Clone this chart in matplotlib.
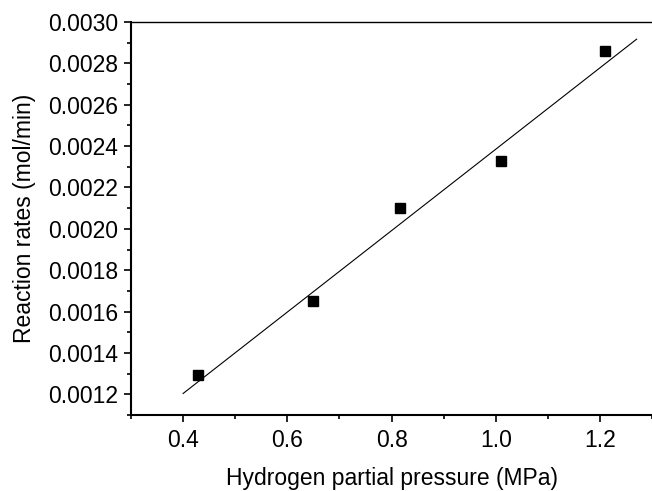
import matplotlib.pyplot as plt
from matplotlib.ticker import MultipleLocator, FormatStrFormatter

plt.rcParams['font.family'] = ['Liberation Sans', 'DejaVu Sans']

# measured rates
pressure = [0.428, 0.650, 0.817, 1.010, 1.209]
rate = [0.001291, 0.001652, 0.002099, 0.002327, 0.002862]

# linear fit line, as drawn
fit_x = [0.40, 1.27]
fit_y = [0.001204, 0.002917]

fig = plt.figure(figsize=(6.52, 4.91), dpi=100)
ax = fig.add_axes([0.2009, 0.1548, 0.7995, 0.8004])

ax.plot(fit_x, fit_y, color='black', lw=0.8)
ax.plot(pressure, rate, 's', color='black', ms=6.5)

ax.set_xlim(0.3, 1.3)
ax.set_ylim(0.0011, 0.0030)
ax.xaxis.set_major_locator(MultipleLocator(0.2))
ax.xaxis.set_minor_locator(MultipleLocator(0.1))
ax.yaxis.set_major_locator(MultipleLocator(0.0002))
ax.yaxis.set_minor_locator(MultipleLocator(0.0001))
ax.xaxis.set_major_formatter(FormatStrFormatter('%.1f'))
ax.yaxis.set_major_formatter(FormatStrFormatter('%.4f'))

ax.spines['right'].set_visible(False)
ax.spines['left'].set_linewidth(1.5)
ax.spines['bottom'].set_linewidth(1.5)
ax.spines['top'].set_linewidth(1.0)

ax.tick_params(which='major', direction='out', length=5, width=1.2, labelsize=16.5)
ax.tick_params(which='minor', direction='out', length=3, width=1.2)
ax.tick_params(axis='x', which='major', pad=5)
ax.tick_params(axis='y', which='major', pad=4)

ax.set_xlabel('Hydrogen partial pressure (MPa)', fontsize=16.5, labelpad=11)
ax.set_ylabel('Reaction rates (mol/min)', fontsize=16.5, labelpad=9)

fig.savefig('out.png', dpi=100)
